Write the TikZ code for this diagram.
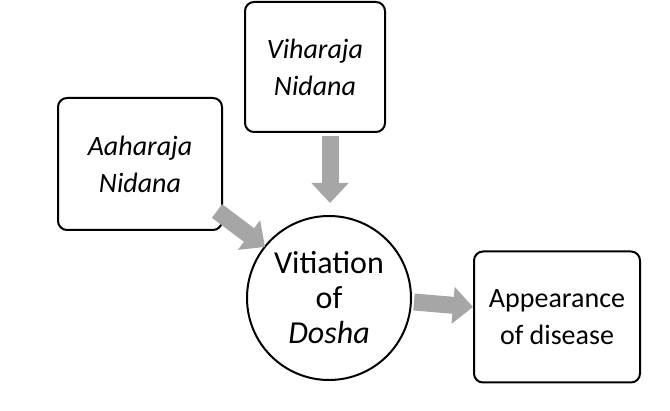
\documentclass[tikz,border=0pt]{standalone}
\usepackage{fontspec}
\setmainfont{Carlito}
\usetikzlibrary{arrows.meta,calc}
\begin{document}
\begin{tikzpicture}[x=1pt,y=-1pt,
  box/.style={draw,line width=2pt,rounded corners=9pt,align=center,font=\fontsize{28}{37}\selectfont},
  blk/.style={line width=17pt,color=black!35,-{Triangle[length=20pt,width=36pt]}}]
\useasboundingbox (0,0) rectangle (670,411);
\node[box,minimum width=140pt,minimum height=130pt] (v) at (315,67) {\textit{Viharaja}\\\textit{Nidana}};
\node[box,minimum width=164pt,minimum height=132pt] (a) at (140,164) {\textit{Aaharaja}\\\textit{Nidana}};
\node[draw,circle,line width=2pt,minimum size=164pt,inner sep=0pt,align=center,font=\fontsize{32}{35}\selectfont] (c) at (329,298) {Vitiation\\of\\\textit{Dosha}};
\node[box,minimum width=166pt,minimum height=131pt] (d) at (557,317) {Appearance\\of disease};
\draw[blk] ($(v.south)+(15,3)$) -- ($(v.south)+(15,70)$);
\draw[blk] ($(a.south east)+(-6,-20)$) -- ($(a.south east)+(42,16)$);
\draw[blk] ($(c.east)+(2,4)$) -- ($(d.west)+(0,-10)$);
\end{tikzpicture}
\end{document}
